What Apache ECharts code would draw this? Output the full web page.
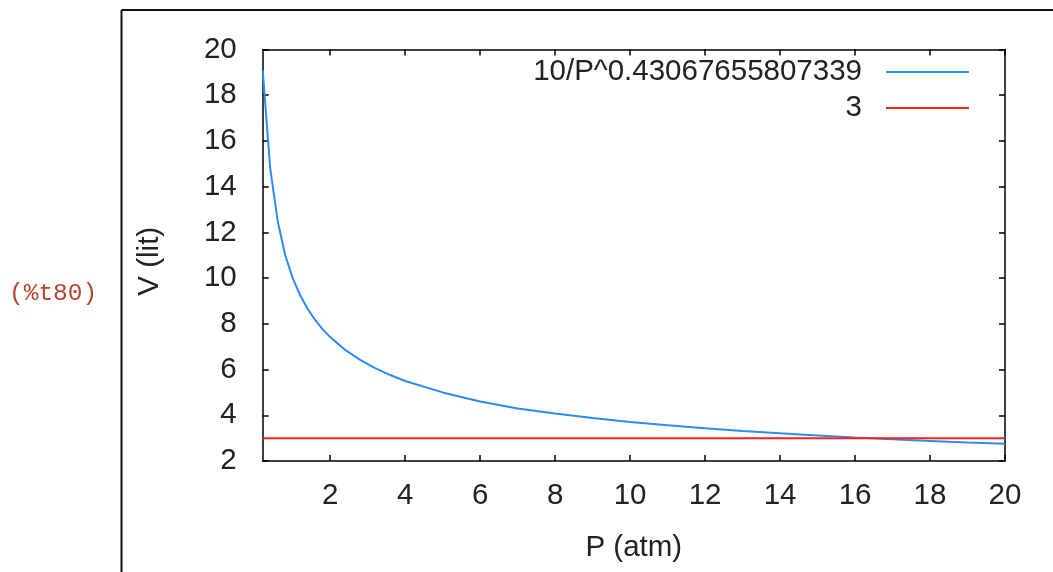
<!DOCTYPE html>
<html>
<head>
<meta charset="utf-8">
<script src="https://cdn.jsdelivr.net/npm/echarts@6/dist/echarts.min.js"></script>
<style>html,body{margin:0;padding:0;background:#fff}#c{width:1053px;height:572px}</style>
</head>
<body>
<div id="c"></div>
<script>
var pressure = [0.2,0.4,0.6,0.8,1.0,1.2,1.4,1.6,1.8,2.0,2.4,2.8,3.2,3.6,4,5,6,7,8,9,10,11,12,13,14,15,16,17,18,19,20];
var volume = [19.1,14.8,12.5,11.0,10,9.25,8.65,8.17,7.76,7.42,6.86,6.42,6.06,5.76,5.5,5.0,4.6,4.3,4.08,3.88,3.71,3.56,3.43,3.31,3.21,3.12,3.03,2.95,2.88,2.81,2.75];
var constP = [0.2, 20];
var constV = [3, 3];
var xTicks = [2,4,6,8,10,12,14,16,18,20];
var seriesNames = ['10/P^0.43067655807339', '3'];

var chart = echarts.init(document.getElementById('c'), null, {renderer:'canvas'});
var font = 'Liberation Sans, Arial, sans-serif';
var fs = 29.5;
var txt = '#222';
function pairs(a,b){return a.map(function(v,i){return [v,b[i]];});}
var axisLine = {show:true,onZero:false,lineStyle:{color:'#000',width:1.5}};
chart.setOption({
  animation:false,
  grid:{left:262.7,right:48,top:49.5,bottom:111,show:false},
  legend:{
    orient:'vertical', align:'right', right:84, top:57, padding:0,
    itemWidth:102, itemHeight:16, itemGap:6,
    icon:'path://M0,0L0,0M19,7L102,7L102,9L19,9ZM0,16L0,16',
    textStyle:{fontFamily:font,fontSize:fs,color:txt},
    data:seriesNames
  },
  xAxis:[{
    type:'value', min:0.2, max:20, position:'bottom',
    name:'P (atm)', nameLocation:'middle', nameGap:72,
    nameTextStyle:{fontFamily:font,fontSize:fs,color:txt},
    axisLine:axisLine,
    axisTick:{show:true,inside:true,length:6,customValues:xTicks,lineStyle:{color:'#000',width:1.5}},
    axisLabel:{customValues:xTicks,margin:20,fontFamily:font,fontSize:fs,color:txt},
    splitLine:{show:false}
  },{
    type:'value', min:0.2, max:20, position:'top',
    axisLine:axisLine,
    axisTick:{show:true,inside:true,length:6,customValues:xTicks,lineStyle:{color:'#000',width:1.5}},
    axisLabel:{show:false}, splitLine:{show:false}
  }],
  yAxis:[{
    type:'value', min:2, max:20, interval:2, position:'left',
    name:'V (lit)', nameLocation:'middle', nameGap:98,
    nameTextStyle:{fontFamily:font,fontSize:fs,color:txt,padding:[0,12,0,0]},
    axisLine:axisLine,
    axisTick:{show:true,inside:true,length:6,lineStyle:{color:'#000',width:1.5}},
    axisLabel:{margin:26,fontFamily:font,fontSize:fs,color:txt},
    splitLine:{show:false}
  },{
    type:'value', min:2, max:20, interval:2, position:'right',
    axisLine:axisLine,
    axisTick:{show:true,inside:true,length:6,lineStyle:{color:'#000',width:1.5}},
    axisLabel:{show:false}, splitLine:{show:false}
  }],
  series:[{
    name:seriesNames[0], type:'line', data:pairs(pressure,volume), showSymbol:false,
    lineStyle:{color:'#2b8cf6',width:2}, itemStyle:{color:'#2b8cf6'}
  },{
    name:seriesNames[1], type:'line', data:pairs(constP,constV), showSymbol:false,
    lineStyle:{color:'#ff1f1f',width:2}, itemStyle:{color:'#ff1f1f'}
  }],
  graphic:[
    {type:'line',shape:{x1:121.5,y1:10,x2:121.5,y2:572},style:{stroke:'#111',lineWidth:2}},
    {type:'line',shape:{x1:121.5,y1:10,x2:1053,y2:10},style:{stroke:'#111',lineWidth:2}},
    {type:'text',x:9,y:294,style:{text:'(%t80)',fontFamily:'Liberation Mono, DejaVu Sans Mono, monospace',fontSize:24.5,fill:'#b5452e',verticalAlign:'middle'}}
  ]
});
</script>
</body>
</html>
